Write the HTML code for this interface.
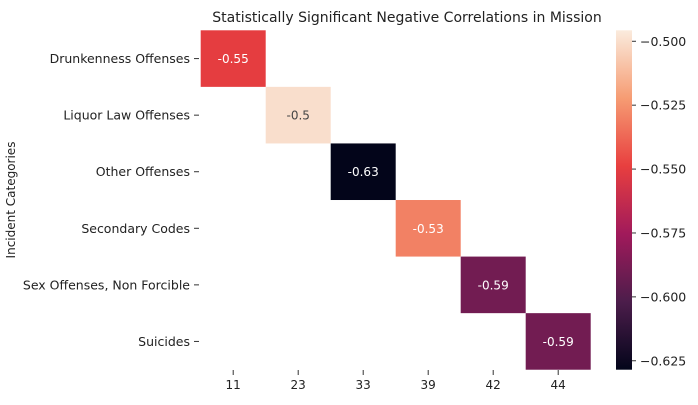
<!DOCTYPE html>
<html><head><meta charset="utf-8"><style>
body{margin:0;background:#fff;width:698px;height:400px;overflow:hidden}
svg{font-family:"DejaVu Sans","Liberation Sans",sans-serif}
</style></head><body>
<svg id="c" width="698" height="400">
<defs><linearGradient id="g" x1="0" y1="1" x2="0" y2="0">
<stop offset="0" stop-color="#03051a"/><stop offset="0.2" stop-color="#4c1d4b"/><stop offset="0.4" stop-color="#a11a5b"/><stop offset="0.6" stop-color="#e83f3f"/><stop offset="0.8" stop-color="#f69c73"/><stop offset="1" stop-color="#faebdd"/>
</linearGradient></defs>
<text x="407" y="22" text-anchor="middle" font-size="14" fill="#222">Statistically Significant Negative Correlations in Mission</text>
<text transform="translate(15,200) rotate(-90)" text-anchor="middle" font-size="12" fill="#222">Incident Categories</text>
<rect x="616" y="30.3" width="16" height="339.4" fill="url(#g)"/>
<g id="plot"></g>
</svg>
<script>
const rows=["Drunkenness Offenses","Liquor Law Offenses","Other Offenses","Secondary Codes","Sex Offenses, Non Forcible","Suicides"];
const cols=["11","23","33","39","42","44"];
const values=[-0.55,-0.5,-0.63,-0.53,-0.59,-0.59];
const labels=["-0.55","-0.5","-0.63","-0.53","-0.59","-0.59"];
const cbTicks=[-0.5,-0.525,-0.55,-0.575,-0.6,-0.625];
const vmin=-0.6285,vmax=-0.4957;
const X0=200.7,Y0=30.3,CW=65,CH=56.57;
const stops=[[0,[3,5,26]],[0.2,[76,29,75]],[0.4,[161,26,91]],[0.6,[232,63,63]],[0.8,[246,156,115]],[1,[250,235,221]]];
function cmap(v){let t=Math.max(0,Math.min(1,(v-vmin)/(vmax-vmin)));for(let i=1;i<stops.length;i++){if(t<=stops[i][0]){const a=stops[i-1],b=stops[i],f=(t-a[0])/(b[0]-a[0]);return 'rgb('+a[1].map((c,k)=>Math.round(c+(b[1][k]-c)*f)).join(',')+')';}}return 'rgb(250,235,221)';}
const NS="http://www.w3.org/2000/svg",g=document.getElementById('plot');
function el(t,a,txt){const e=document.createElementNS(NS,t);for(const k in a)e.setAttribute(k,a[k]);if(txt!==undefined)e.textContent=txt;g.appendChild(e);return e;}
const cbY=v=>30.3+(vmax-v)/(vmax-vmin)*339.4;
rows.forEach((r,i)=>{
 const y=Y0+i*CH,x=X0+i*CW;
 const rc=el('rect',{x:x,y:y,width:CW,height:CH,fill:cmap(values[i])});
 
 
 const t=(values[i]-vmin)/(vmax-vmin);
 const tx=el('text',{x:x+CW/2,y:y+CH/2+4.5,'text-anchor':'middle','font-size':12,fill:t>0.85?'#444':'#fff'},labels[i]);
 
 
 const yl=el('text',{x:190,y:y+CH/2+4.5,'text-anchor':'end','font-size':12.5,fill:'#222'},r);
 
 
 el('line',{x1:194,x2:199,y1:y+CH/2,y2:y+CH/2,stroke:'#333'});
});
cols.forEach((c,i)=>{
 const x=X0+i*CW+CW/2;
 el('line',{x1:x,x2:x,y1:370,y2:375,stroke:'#333'});
 const xl=el('text',{x:x,y:389,'text-anchor':'middle','font-size':12,fill:'#222'},c);
 
 
});
cbTicks.forEach(v=>{
 const y=cbY(v);
 el('line',{x1:632,x2:636,y1:y,y2:y,stroke:'#333'});
 const tl=el('text',{x:640,y:y+4.5,'font-size':12.5,fill:'#222'},'\u2212'+Math.abs(v).toFixed(3));
 
 
});
</script>
</body></html>
